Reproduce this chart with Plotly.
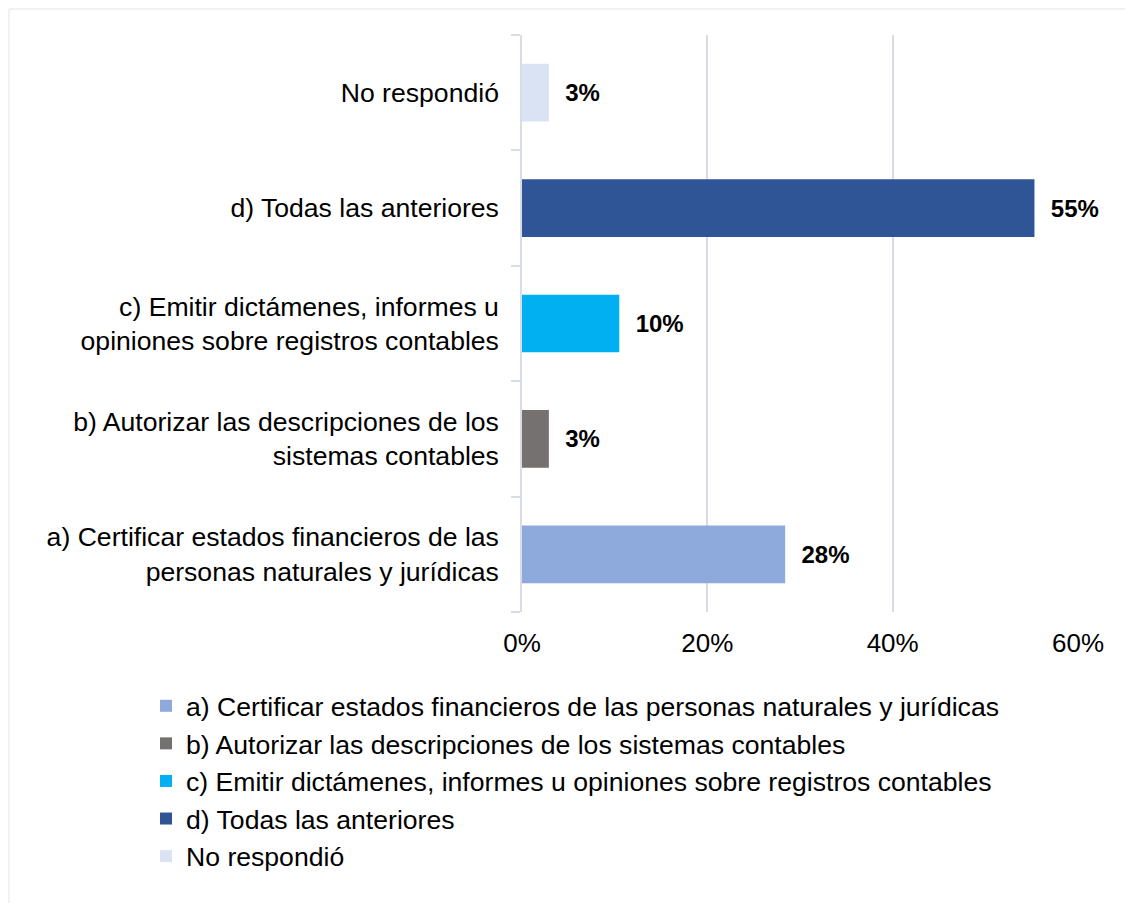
import plotly.graph_objects as go

categories = [
    "a) Certificar estados financieros de las personas naturales y jurídicas",
    "b) Autorizar las descripciones de los sistemas contables",
    "c) Emitir dictámenes, informes u opiniones sobre registros contables",
    "d) Todas las anteriores",
    "No respondió",
]
tick_labels = [
    "a) Certificar estados financieros de las<br>personas naturales y jurídicas",
    "b) Autorizar las descripciones de los<br>sistemas contables",
    "c) Emitir dictámenes, informes u<br>opiniones sobre registros contables",
    "d) Todas las anteriores",
    "No respondió",
]
values = [28.4, 2.9, 10.5, 55.3, 2.9]
value_labels = ["28%", "3%", "10%", "55%", "3%"]
colors = ["#8eaadc", "#767171", "#00b0f0", "#2f5597", "#dae3f3"]

W, H = 1133, 903
OFF = 8  # page body offset
# target page coordinates of the plot area
pl, pr, pt, pb = 522, 1078, 35, 612
ml = pl - OFF
mt = pt - OFF
mr = W - (pr - OFF)
mb = H - (pb - OFF)
pw = W - ml - mr
ph = H - mt - mb


def px_x(x):
    return (x - OFF - ml) / pw


def px_y(y):
    return (H - mb - (y - OFF)) / ph


FONT = "Liberation Sans, Arial, sans-serif"
FS = 26.6

fig = go.Figure()
for cat, tl, v, lab, c in zip(categories, tick_labels, values, value_labels, colors):
    fig.add_trace(go.Bar(
        y=[tl], x=[v], orientation="h", name=cat,
        marker=dict(color=c, line=dict(width=0)),
        width=0.5,
        text=["\u00a0\u00a0" + lab], textposition="outside",
        textfont=dict(size=24, color="#000000", family=FONT, weight="bold"),
        cliponaxis=False,
        hoverinfo="x+name",
    ))

fig.update_layout(
    width=W, height=H,
    margin=dict(l=ml, r=mr, t=mt, b=mb),
    paper_bgcolor="white", plot_bgcolor="white",
    font=dict(family=FONT, size=FS, color="#000000"),
    barmode="overlay",
    showlegend=True,
    legend=dict(
        orientation="v", traceorder="normal",
        x=px_x(146), xanchor="left",
        y=px_y(682), yanchor="top",
        font=dict(size=FS, color="#000000"),
        itemwidth=30, tracegroupgap=0,
        bgcolor="rgba(0,0,0,0)",
    ),
    xaxis=dict(
        range=[0, 60], dtick=20, tick0=0, ticksuffix="%",
        showgrid=True, gridcolor="#d9dbe6", gridwidth=1.5,
        zeroline=False, showline=False,
        ticks="outside", ticklen=8, tickcolor="rgba(0,0,0,0)",
        tickfont=dict(size=26, color="#000000"),
        fixedrange=True,
    ),
    yaxis=dict(
        type="category", categoryorder="array", categoryarray=tick_labels,
        tickson="boundaries", ticks="outside", ticklen=9, tickcolor="#d9dbe6", tickwidth=1.5,
        showline=True, linecolor="#d9dbe6", linewidth=1.5,
        showgrid=False, zeroline=False,
        tickfont=dict(size=FS, color="#000000"),
        ticklabelstandoff=16,
        fixedrange=True,
    ),
    shapes=[
        dict(type="line", xref="paper", yref="paper",
             x0=px_x(9), x1=px_x(1141),
             y0=px_y(9), y1=px_y(9),
             line=dict(color="#ececec", width=1.5)),
        dict(type="line", xref="paper", yref="paper",
             x0=px_x(9), x1=px_x(9),
             y0=px_y(9), y1=px_y(911),
             line=dict(color="#ececec", width=1.5)),
    ],
)

fig.write_html("out.html")
